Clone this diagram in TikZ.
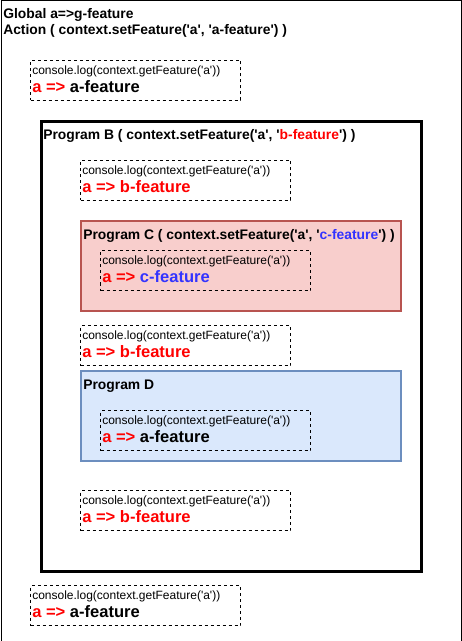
\documentclass[tikz,border=0pt]{standalone}
\usepackage{fontspec}
\setmainfont{Liberation Sans}
\usetikzlibrary{calc}
\definecolor{fond_c}{HTML}{F8CECC}
\definecolor{bord_c}{HTML}{B85450}
\definecolor{fond_d}{HTML}{DAE8FC}
\definecolor{bord_d}{HTML}{6C8EBF}
\definecolor{bleu_txt}{HTML}{3333FF}
\newcommand{\ap}{\textquotesingle}

\begin{document}
\begin{tikzpicture}[x=0.75pt,y=-0.75pt,
    cadre/.style={draw, anchor=north west, inner sep=0pt, line width=0.75pt},
    logbox/.style={draw, dashed, dash pattern=on 2.25pt off 2.25pt, line width=0.75pt,
        anchor=north west, inner sep=0pt, minimum width=157.5pt, minimum height=30pt},
    titre/.style={anchor=base west, inner sep=0pt, font=\fontsize{10.4}{12}\selectfont\bfseries},
    logtxt/.style={anchor=base west, inner sep=0pt, font=\fontsize{9}{11}\selectfont},
    valtxt/.style={anchor=base west, inner sep=0pt, font=\fontsize{12.4}{14}\selectfont\bfseries, text=red}]

        % Cadre extérieur et zone de la page
        \useasboundingbox (0,0) rectangle (461,641);
        \node[cadre, minimum width=345pt, minimum height=480pt] (page) at (0.5,0.5) {};

        % Titres globaux
        \node[titre] (glob) at (3,19) {Global a=>g-feature};
        \node[titre] (action) at (3,35) {Action ( context.setFeature(\ap a\ap, \ap a-feature\ap) )};

        % Premier log (niveau Action)
        \node[logbox] (logA) at (30,60) {};
        \node[logtxt] (logAcmd) at ($(logA.north west)+(2,14.5)$) {console.log(context.getFeature(\ap a\ap))};
        \node[valtxt] (logAval) at ($(logA.north west)+(2,32.5)$) {a => \textcolor{black}{a-feature}};

        % Programme B
        \node[cadre, line width=2.25pt, minimum width=285pt, minimum height=337.5pt] (progB) at (40,120) {};
        \node[titre] (progBtxt) at ($(progB.north west)+(3,19.5)$) {Program B ( context.setFeature(\ap a\ap, \ap\textcolor{red}{b-feature}\ap) )};

        \node[logbox] (logB1) at (80,160) {};
        \node[logtxt] (logB1cmd) at ($(logB1.north west)+(2,14.5)$) {console.log(context.getFeature(\ap a\ap))};
        \node[valtxt] (logB1val) at ($(logB1.north west)+(2,32.5)$) {a => b-feature};

        % Programme C
        \node[cadre, fill=fond_c, draw=bord_c, line width=1.5pt, minimum width=240pt, minimum height=67.5pt] (progC) at (80,220) {};
        \node[titre] (progCtxt) at ($(progC.north west)+(3,19.5)$) {Program C ( context.setFeature(\ap a\ap, \ap\textcolor{bleu_txt}{c-feature}\ap) )};

        \node[logbox] (logC) at (100,250) {};
        \node[logtxt] (logCcmd) at ($(logC.north west)+(2,14.5)$) {console.log(context.getFeature(\ap a\ap))};
        \node[valtxt] (logCval) at ($(logC.north west)+(2,32.5)$) {a => \textcolor{bleu_txt}{c-feature}};

        % Log après C
        \node[logbox] (logB2) at (80,325) {};
        \node[logtxt] (logB2cmd) at ($(logB2.north west)+(2,14.5)$) {console.log(context.getFeature(\ap a\ap))};
        \node[valtxt] (logB2val) at ($(logB2.north west)+(2,32.5)$) {a => b-feature};

        % Programme D
        \node[cadre, fill=fond_d, draw=bord_d, line width=1.5pt, minimum width=240pt, minimum height=67.5pt] (progD) at (80,370) {};
        \node[titre] (progDtxt) at ($(progD.north west)+(3,19.5)$) {Program D};

        \node[logbox] (logD) at (100,410) {};
        \node[logtxt] (logDcmd) at ($(logD.north west)+(2,14.5)$) {console.log(context.getFeature(\ap a\ap))};
        \node[valtxt] (logDval) at ($(logD.north west)+(2,32.5)$) {a => \textcolor{black}{a-feature}};

        % Log après D
        \node[logbox] (logB3) at (80,490) {};
        \node[logtxt] (logB3cmd) at ($(logB3.north west)+(2,14.5)$) {console.log(context.getFeature(\ap a\ap))};
        \node[valtxt] (logB3val) at ($(logB3.north west)+(2,32.5)$) {a => b-feature};

        % Dernier log (hors du programme B)
        \node[logbox] (logZ) at (30,585) {};
        \node[logtxt] (logZcmd) at ($(logZ.north west)+(2,14.5)$) {console.log(context.getFeature(\ap a\ap))};
        \node[valtxt] (logZval) at ($(logZ.north west)+(2,32.5)$) {a => \textcolor{black}{a-feature}};
    \end{tikzpicture}
\end{document}
